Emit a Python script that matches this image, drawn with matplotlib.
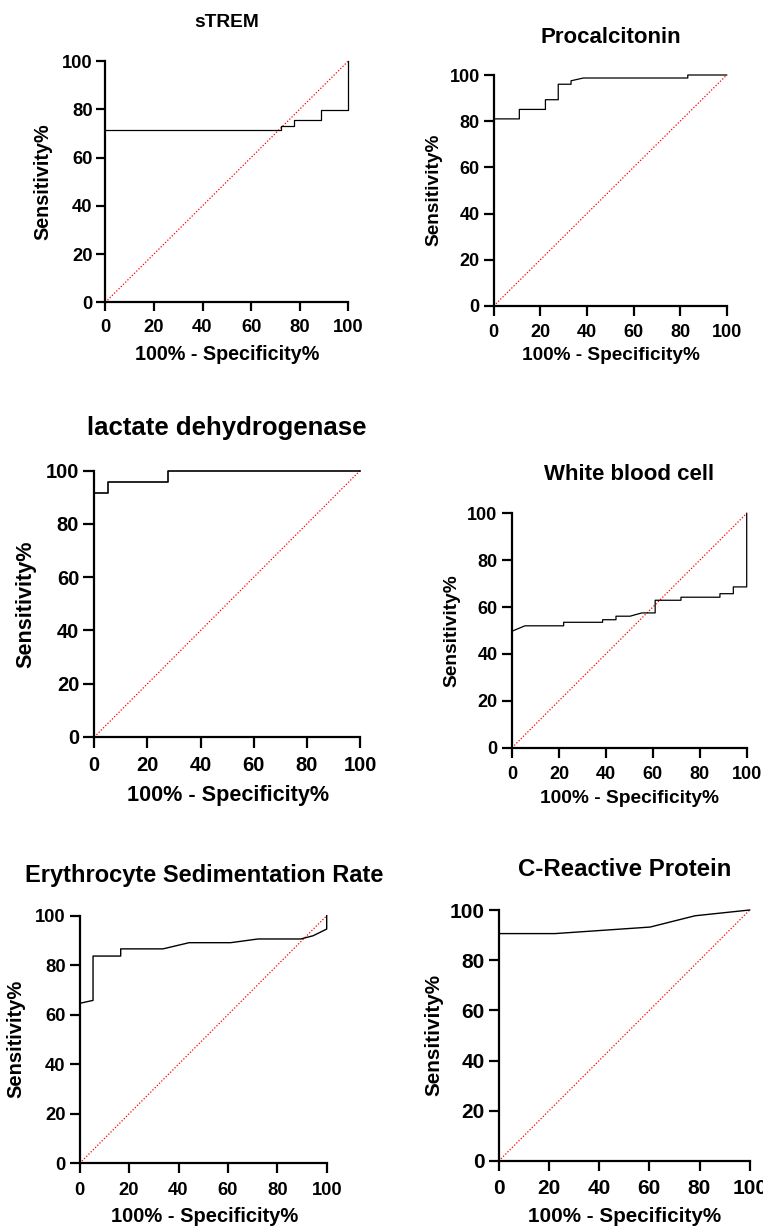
import matplotlib
matplotlib.use("Agg")
import matplotlib.pyplot as plt

plt.rcParams['font.family'] = ['Liberation Sans', 'DejaVu Sans']
plt.rcParams['font.weight'] = 'bold'

W, H = 763, 1228
DPI = 100

titles = ["sTREM", "Procalcitonin", "lactate dehydrogenase",
          "White blood cell", "Erythrocyte Sedimentation Rate", "C-Reactive Protein"]

strem_x = [0, 72.2, 72.2, 77.5, 77.5, 88.6, 88.6, 100, 100]
strem_y = [71.3, 71.3, 72.9, 72.9, 75.4, 75.4, 79.6, 79.6, 100]

pct_x = [0, 11.0, 11.0, 22.2, 22.2, 27.7, 27.7, 33.2, 33.2, 38.5, 83.3, 83.3, 100]
pct_y = [81.0, 81.0, 85.1, 85.1, 89.3, 89.3, 96.0, 96.0, 97.5, 98.7, 98.7, 100, 100]

ldh_x = [0, 5.3, 5.3, 27.7, 27.7, 100]
ldh_y = [91.6, 91.6, 95.8, 95.8, 100, 100]

wbc_x = [0, 5.5, 22.0, 22.0, 38.6, 38.6, 44.3, 44.3, 50.3, 55.3, 61.0, 61.0,
         72.0, 72.0, 88.6, 88.6, 94.3, 94.3, 100, 100]
wbc_y = [49.7, 52.0, 52.0, 53.5, 53.5, 54.6, 54.6, 56.1, 56.1, 57.5, 57.5, 62.9,
         62.9, 64.2, 64.2, 65.7, 65.7, 68.6, 68.6, 100]

esr_x = [0, 5.4, 5.4, 16.6, 16.6, 33.7, 44.3, 61.1, 72.2, 89.5, 94.5, 100, 100]
esr_y = [64.6, 65.8, 83.7, 83.7, 86.6, 86.6, 89.1, 89.1, 90.6, 90.6, 91.9, 94.6, 100]

crp_x = [0, 22.4, 60.3, 78.2, 100]
crp_y = [90.6, 90.6, 93.2, 97.7, 100]

curves = [(strem_x, strem_y), (pct_x, pct_y), (ldh_x, ldh_y),
          (wbc_x, wbc_y), (esr_x, esr_y), (crp_x, crp_y)]

diag = [0, 100]
ticks = [0, 20, 40, 60, 80, 100]
ylabel = "Sensitivity%"
xlabel = "100% - Specificity%"

# layout in pixels: left, right, top, bottom of axes
boxes = [(105.3, 348.3, 61.0, 302.3),
         (493.7, 726.7, 75.0, 306.0),
         (94.3, 360.0, 470.7, 737.0),
         (512.0, 746.7, 513.3, 747.7),
         (79.7, 326.7, 915.7, 1163.3),
         (498.7, 749.7, 910.0, 1161.0)]
# title (x, y), ylabel (x, y), xlabel (x, y)  (pixels)
textpos = [((227, 22.7), (43.3, 181.7), (227.5, 355)),
           ((610.8, 37.2), (433.8, 190), (611.2, 355.7)),
           ((227, 428.3), (26.2, 604.3), (228, 795)),
           ((629.3, 474.7), (451.7, 630.8), (629.7, 798.7)),
           ((203.7, 875.3), (16.2, 1039.2), (204.2, 1216.7)),
           ((625, 869.2), (434.3, 1035.5), (624.7, 1216))]
# title size, label size, tick size, tick length
sizes = [(13.8, 14.2, 13.2, 6.2),
         (16.0, 13.7, 13.0, 7.0),
         (18.5, 15.6, 14.5, 7.9),
         (16.0, 13.8, 13.0, 7.4),
         (17.0, 14.5, 13.2, 7.2),
         (17.3, 14.9, 15.0, 7.2)]
curve_lw = [0.9, 0.9, 1.2, 0.9, 1.0, 1.0]

fig = plt.figure(figsize=(W / DPI, H / DPI), dpi=DPI)

for i in range(6):
    l, r, t, b = boxes[i]
    ax = fig.add_axes([l / W, 1 - b / H, (r - l) / W, (b - t) / H])
    x, y = curves[i]
    ax.plot(diag, diag, color='red', linestyle=(0, (1, 1.5)), lw=0.9, clip_on=False, zorder=2)
    ax.plot(x, y, color='black', lw=curve_lw[i], clip_on=False, zorder=3)
    ax.set_xlim(0, 100)
    ax.set_ylim(0, 100)
    ax.set_xticks(ticks)
    ax.set_yticks(ticks)
    ts, ls, ks, tl = sizes[i]
    ax.tick_params(axis='both', direction='out', length=tl, width=1.6,
                   labelsize=ks, colors='black')
    ax.tick_params(axis='x', pad=6)
    ax.tick_params(axis='y', pad=3)
    for lab in ax.get_xticklabels() + ax.get_yticklabels():
        lab.set_fontweight('bold')
    for s in ['top', 'right']:
        ax.spines[s].set_visible(False)
    for s in ['left', 'bottom']:
        ax.spines[s].set_linewidth(1.6)
        ax.spines[s].set_zorder(4)
    (tx, ty), (yx, yy), (xx, xy) = textpos[i]
    fig.text(tx / W, 1 - ty / H, titles[i], ha='center', va='center',
             fontsize=ts, fontweight='bold')
    fig.text(yx / W, 1 - yy / H, ylabel, ha='center', va='center', rotation=90,
             fontsize=ls, fontweight='bold')
    fig.text(xx / W, 1 - xy / H, xlabel, ha='center', va='center',
             fontsize=ls, fontweight='bold')

fig.savefig("out.png", dpi=DPI)
